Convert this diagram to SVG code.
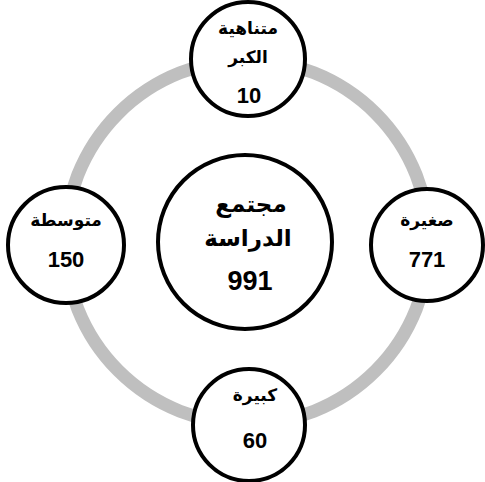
<svg xmlns="http://www.w3.org/2000/svg" width="485" height="482" viewBox="0 0 485 482">
<style>
.n{fill:#fff;stroke:#000;stroke-width:4}
.t{font-family:"DejaVu Sans","Liberation Sans",sans-serif;font-weight:bold;fill:#000;text-anchor:middle}
.d{font-family:"Liberation Sans","DejaVu Sans",sans-serif;font-weight:bold;fill:#000;text-anchor:middle}
.s{font-size:17px}
.c{font-size:23px}
.sn{font-size:22px}
.cn{font-size:27px}
</style>
<rect width="485" height="482" fill="#fff"/>
<g id="connectors">
<circle cx="247" cy="242" r="182" fill="none" stroke="#bfbfbf" stroke-width="13"/>
</g>
<g id="center">
<circle class="n" cx="245" cy="242" r="87"/>
<text class="t c" x="251" y="212" direction="rtl">مجتمع</text>
<text class="t c" x="248" y="246" direction="rtl">الدراسة</text>
<text class="d cn" x="250" y="290">991</text>
</g>
<g id="top">
<circle class="n" cx="248" cy="59" r="57"/>
<text class="t s" x="248" y="34" direction="rtl">متناهية</text>
<text class="t s" x="248" y="63" direction="rtl">الكبر</text>
<text class="d sn" x="249" y="103">10</text>
</g>
<g id="left">
<circle class="n" cx="66" cy="245" r="58"/>
<text class="t s" x="66" y="226" direction="rtl">متوسطة</text>
<text class="d sn" x="66" y="267">150</text>
</g>
<g id="right">
<circle class="n" cx="427" cy="245" r="56"/>
<text class="t s" x="427" y="226" direction="rtl">صغيرة</text>
<text class="d sn" x="427" y="267">771</text>
</g>
<g id="bottom">
<circle class="n" cx="249" cy="425" r="56"/>
<text class="t s" x="255" y="401" direction="rtl">كبيرة</text>
<text class="d sn" x="255" y="448">60</text>
</g>
</svg>
